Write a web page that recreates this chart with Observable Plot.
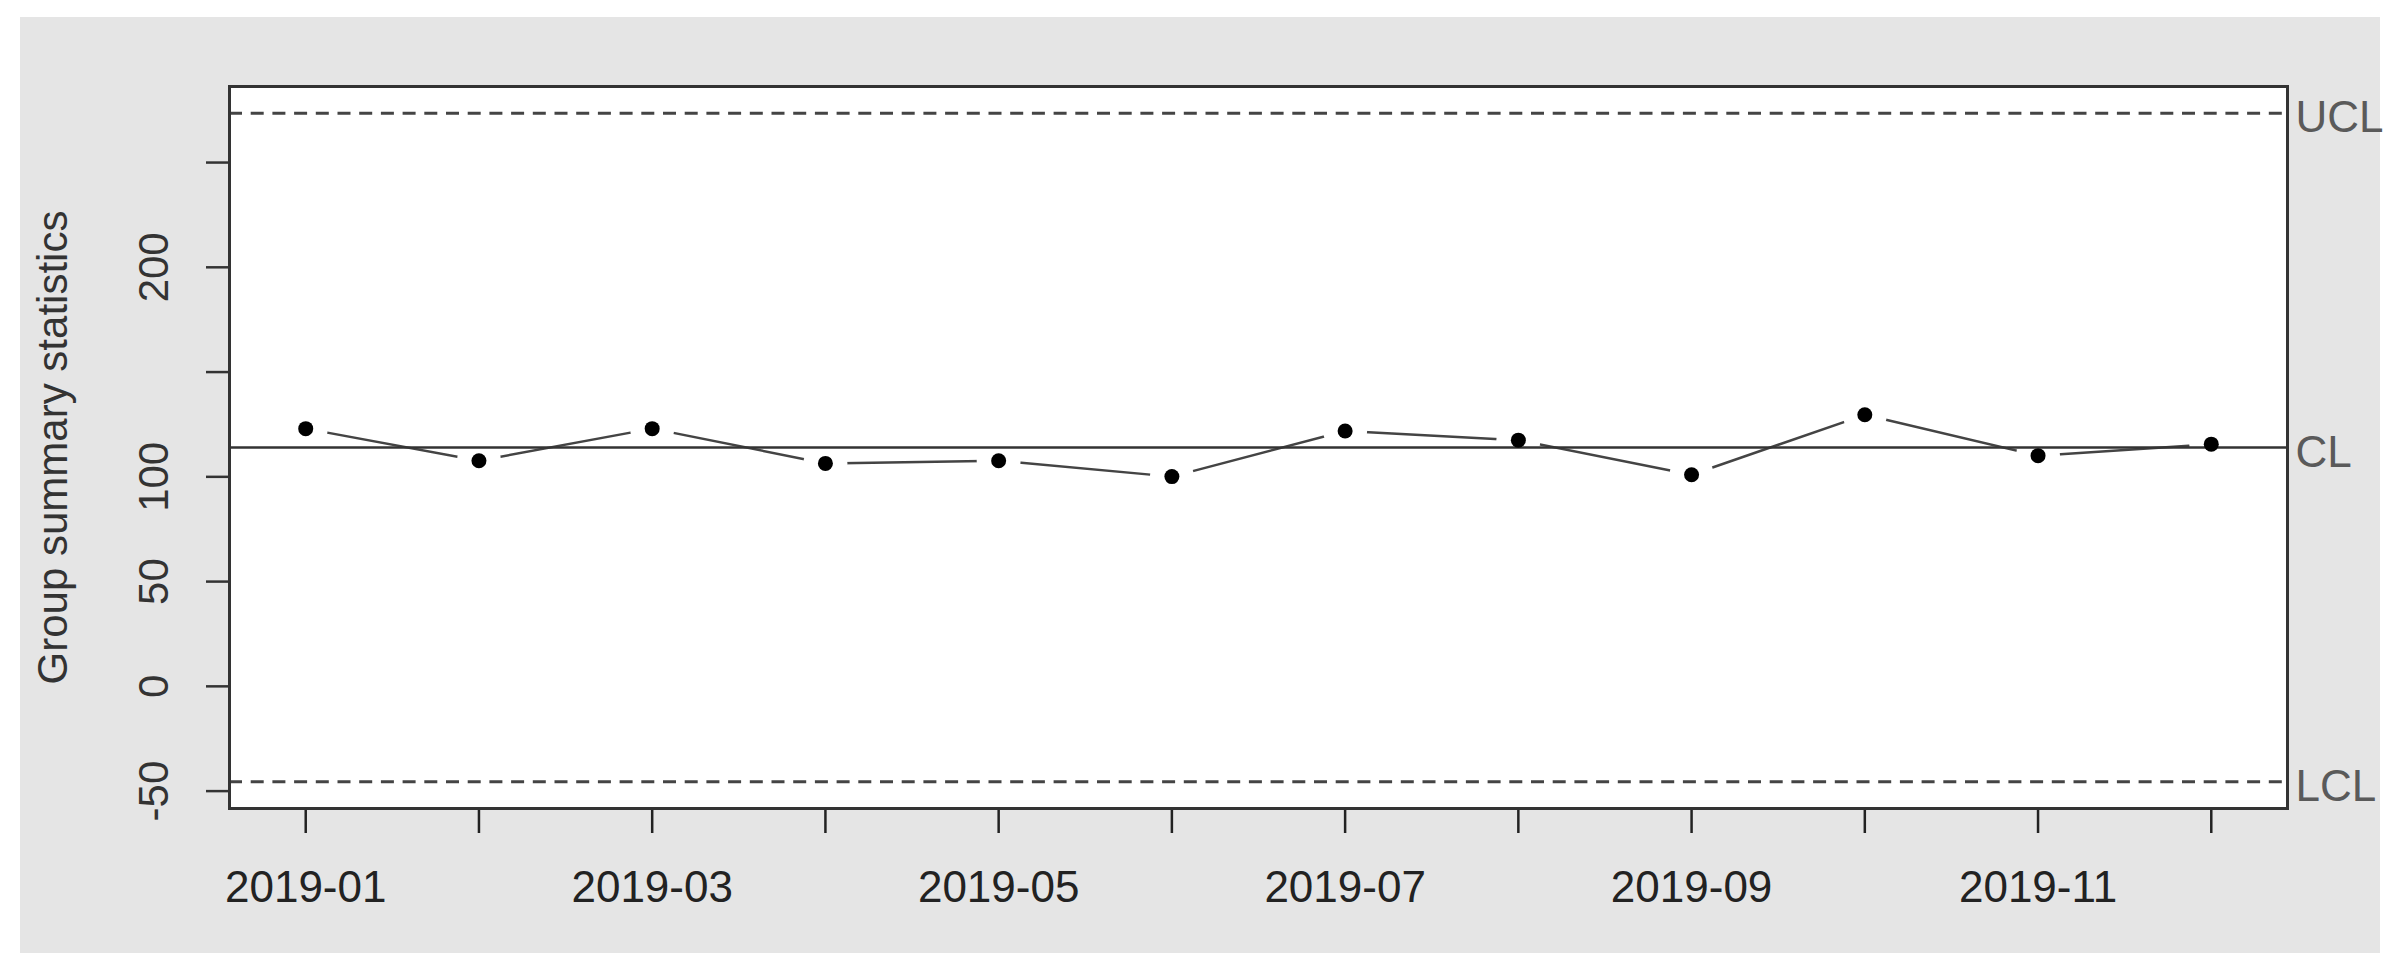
<!DOCTYPE html>
<html>
<head>
<meta charset="utf-8">
<script src="https://cdn.jsdelivr.net/npm/d3@7"></script>
<script src="https://cdn.jsdelivr.net/npm/@observablehq/plot@0.6"></script>
<style>
  html, body { margin: 0; padding: 0; background: #ffffff; }
  #wrap { position: relative; width: 2395px; height: 974px; background: #ffffff; overflow: hidden; }
  #bg { position: absolute; left: 20px; top: 17px; width: 2360px; height: 936px; background: #e5e5e5; }
  #chart { position: absolute; left: 0; top: 0; }
  #chart svg { display: block; }
</style>
</head>
<body>
<div id="wrap"><div id="bg"></div><div id="chart"></div></div>
<script>
// ---- data ----
const months = ["2019-01","2019-02","2019-03","2019-04","2019-05","2019-06",
                "2019-07","2019-08","2019-09","2019-10","2019-11","2019-12"];
const monthIndex = [1,2,3,4,5,6,7,8,9,10,11,12];
const values = [123.0, 107.7, 123.0, 106.4, 107.7, 100.1, 121.9, 117.5, 101.0, 129.6, 110.1, 115.6];
const labeledMonths = ["2019-01","2019-03","2019-05","2019-07","2019-09","2019-11"];
const yTicks = [-50, 0, 50, 100, 150, 200, 250];
const yTickLabels = [-50, 0, 50, 100, 200];
const limitNames = ["UCL", "CL", "LCL"];
const limitValues = [273.5, 114.0, -45.5];
const yTitle = ["Group summary statistics"];

const data = monthIndex.map((m, i) => ({idx: m, month: months[i], value: values[i]}));
const limits = limitNames.map((n, i) => ({name: n, value: limitValues[i]}));
const ucl = limitValues[0], cl = limitValues[1], lcl = limitValues[2];

const FONT = "'Liberation Sans', Arial, Helvetica, sans-serif";

const chart = Plot.plot({
  width: 2395,
  height: 974,
  marginLeft: 229,
  marginRight: 108,
  marginTop: 86,
  marginBottom: 166,
  style: {background: "transparent", fontFamily: FONT, color: "#222"},
  x: {domain: [0.56, 12.44]},
  y: {domain: [-58.3, 286.3]},
  marks: [
    Plot.frame({fill: "white", stroke: null}),
    Plot.ruleY([ucl, lcl], {stroke: "#444", strokeWidth: 3, strokeDasharray: "13,8.7"}),
    Plot.line(data, {x: "idx", y: "value", stroke: "#444", strokeWidth: 2.5}),
    Plot.dot(data, {x: "idx", y: "value", r: 22, fill: "white"}),
    Plot.ruleY([cl], {stroke: "#333", strokeWidth: 2.5}),
    Plot.dot(data, {x: "idx", y: "value", r: 7.5, fill: "black"}),
    Plot.axisX({
      ticks: monthIndex,
      tickFormat: d => labeledMonths.includes(months[d - 1]) ? months[d - 1] : "",
      tickSize: 25, tickPadding: 37, fontSize: 44, strokeWidth: 2.5,
      color: "#222", label: null
    }),
    Plot.axisY({
      ticks: yTicks, tickFormat: () => "", tickSize: 23, strokeWidth: 2.5,
      color: "#333", label: null
    }),
    Plot.text(yTickLabels, {
      y: d => d, text: d => String(d), frameAnchor: "left", dx: -62,
      rotate: -90, textAnchor: "middle", lineAnchor: "bottom",
      fontSize: 42, fill: "#333"
    }),
    Plot.text(yTitle, {
      text: d => d, frameAnchor: "left", dx: -163,
      rotate: -90, textAnchor: "middle", lineAnchor: "bottom",
      fontSize: 42, fill: "#333"
    }),
    Plot.text(limits, {
      y: "value", text: "name", frameAnchor: "right", dx: 8, dy: 5,
      textAnchor: "start", lineAnchor: "middle", fontSize: 44, fill: "#5a5a5a"
    }),
    Plot.frame({stroke: "#333", strokeWidth: 3})
  ]
});
document.getElementById("chart").appendChild(chart);
</script>
</body>
</html>
